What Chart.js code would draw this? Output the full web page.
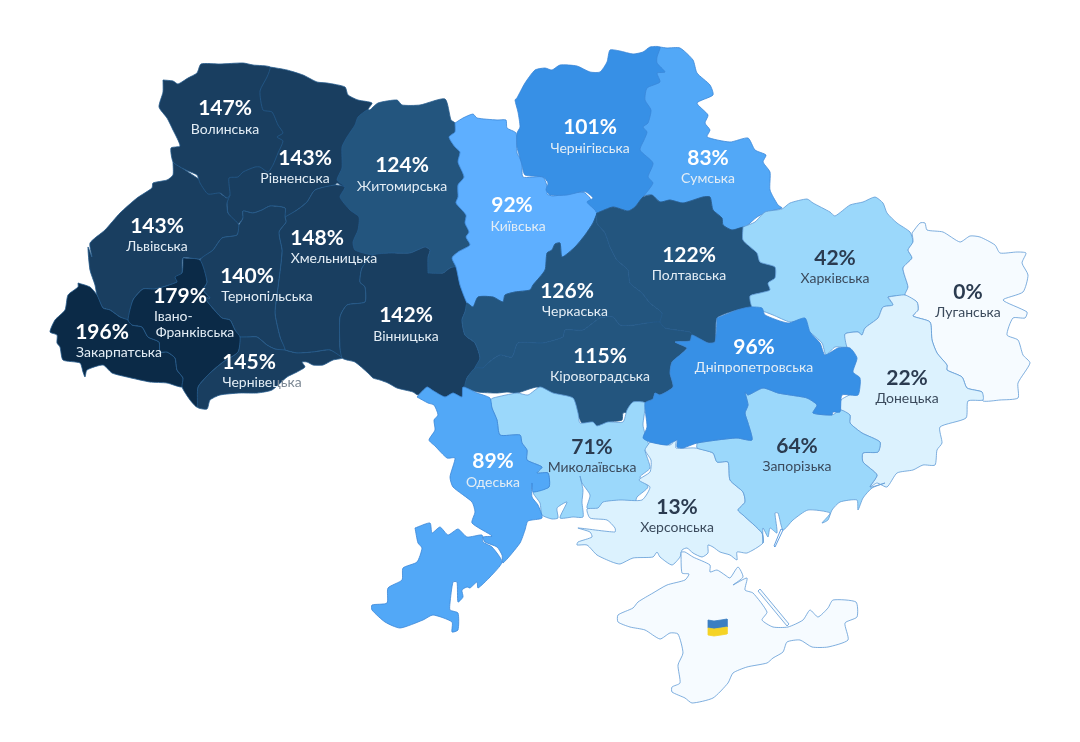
<!DOCTYPE html>
<html><head><meta charset="utf-8">
<style>html,body{margin:0;padding:0;background:#fff}canvas{display:block}</style>
<script src="https://cdn.jsdelivr.net/npm/chart.js@4"></script>
</head><body><canvas id="c" width="1080" height="742"></canvas>
<script>
// Region values (percent) and names, same order as labelX/labelY
const names=["Волинська","Рівненська","Житомирська","Київська","Чернігівська","Сумська","Львівська","Хмельницька","Тернопільська","Полтавська","Харківська","Луганська","Черкаська","Івано-Франківська","Вінницька","Закарпатська","Дніпропетровська","Чернівецька","Кіровоградська","Донецька","Миколаївська","Запорізька","Одеська","Херсонська"];
const values=[147,143,124,92,101,83,143,148,140,122,42,0,126,179,142,196,96,145,115,22,71,64,89,13];
const valueX=[225,305,402,512,590,708,157,317,247,689,835,968,567,180,406,102,754,249,600,907,592,797,493,677];
const valueY=[107,157,164,204,126,157,225,237,275,254,257,291,290,295,314,331,346,361,355,377,446,445,460,506];
const nameX=[225,295,402,518,590,708,157,334,267,689,835,968,575,195,406,119,754,262,600,907,592,797,493,677];
const nameY=[129,178,186,226,148,178,246,258,296,275,278,312,311,324,336,352,367,382,376,398,467,466,482,527];

// Region outlines in map units (x,y pairs)
const volynska=[163,80,173,81,178,84,188,78,197,73,201,64,220,64,243,63,253,65,270,67,267,77,260,91,263,110,272,112,278,125,283,133,277,137,283,141,278,153,273,165,268,172,260,167,255,167,243,172,238,177,229,178,230,195,227,198,220,193,208,194,200,183,197,175,188,171,180,167,173,162,171,148,180,146,173,130,167,118,159,107,163,92];
const rivnenska=[270,67,287,70,303,75,317,82,327,83,345,87,348,95,358,100,372,103,368,110,375,125,358,135,353,170,345,187,337,183,335,185,315,190,307,202,297,210,285,217,285,208,270,206,262,210,253,213,243,211,243,218,238,224,228,213,227,203,227,198,225,170,240,100,255,72];
const lvivska=[173,162,173,175,167,180,153,183,152,188,137,198,120,213,105,230,90,243,92,257,88,247,90,270,95,285,97,295,103,308,110,310,120,317,128,320,133,300,143,289,155,289,177,282,182,273,183,258,200,259,213,250,222,238,237,235,239,225,228,213,227,203,230,195,227,198,220,193];
const ternopilska=[239,225,243,218,243,211,253,213,262,210,270,206,285,208,285,217,286,222,279,232,282,250,281,263,278,287,275,313,280,337,285,350,275,349,267,345,257,337,248,337,240,337,235,330,230,320,222,318,210,305,205,298,210,298,203,290,207,282,200,260,213,250,222,238,237,235];
const khmelnytska=[285,217,297,210,307,202,315,190,335,185,345,187,362,215,373,255,362,268,360,282,365,287,365,302,347,305,340,317,340,348,342,358,330,350,313,352,297,353,288,351,285,350,280,337,275,313,278,287,281,263,282,250,279,232,286,222];
const chernivetska=[240,337,248,337,257,337,267,345,275,349,285,350,288,351,297,353,313,352,330,350,342,358,333,360,323,365,313,365,307,362,302,362,305,367,297,372,287,377,272,390,257,393,240,393,220,395,210,400,207,409,197,407,198,387,210,373,223,362,238,352];
const ivanoFrankivska=[183,258,200,260,207,282,203,290,210,298,205,298,210,305,222,318,230,320,235,330,240,337,238,352,223,362,210,373,198,387,197,407,190,400,182,387,183,378,177,370,175,358,167,352,160,352,159,342,148,337,142,327,132,325,128,320,133,300,143,289,155,289,177,282,175,277,182,273];
const zakarpatska=[78,283,90,287,97,295,103,308,110,310,120,317,128,320,132,325,142,327,148,337,159,342,160,352,167,352,175,358,177,370,183,378,182,387,167,383,150,382,127,377,112,373,103,365,87,370,85,377,83,372,80,363,63,360,60,347,57,343,57,335,50,332,55,320,65,310,68,295,78,287];
const zhytomyrska=[370,110,378,103,397,100,402,105,420,105,445,99,451,120,455,123,455,132,449,137,455,147,460,152,458,162,464,177,458,185,458,197,456,203,466,215,465,223,469,232,466,237,470,245,458,252,452,258,456,267,450,268,443,273,428,273,428,257,430,250,425,247,410,253,390,253,373,255,355,250,353,242,358,230,359,217,350,210,340,197,345,187,337,180,342,168,342,147,347,137,355,125,358,117,367,110];
const vinnytska=[428,273,443,273,450,268,456,267,460,285,467,303,465,312,462,320,465,335,475,343,480,358,475,368,467,378,465,387,463,388,462,397,453,393,445,397,432,390,427,387,418,395,413,392,397,388,388,383,380,380,373,378,368,373,355,362,347,360,342,358,340,348,340,317,347,305,365,302,365,287,360,282,362,268,373,255,390,253,410,253,425,247,430,250,428,257];
const kyivska=[455,123,463,118,473,114,477,118,497,120,506,120,507,128,516,133,517,153,522,162,523,177,543,177,548,190,547,194,553,196,583,192,590,198,592,205,597,213,593,223,585,235,575,247,562,257,560,243,555,244,552,250,547,253,545,270,533,285,530,290,515,292,505,295,503,302,493,297,478,297,473,307,467,303,460,285,456,267,452,258,458,252,470,245,466,237,469,232,465,223,466,215,456,203,458,197,458,185,464,177,458,162,460,152,455,147,449,137,455,132];
const chernihivska=[517,98,525,83,535,70,545,68,552,70,560,65,577,66,590,72,600,72,607,62,610,50,620,51,633,54,643,52,650,47,660,47,657,57,657,63,665,72,657,73,660,82,647,88,645,100,651,110,648,123,643,127,647,132,644,140,640,150,653,163,648,177,653,183,643,197,635,207,628,211,613,207,597,213,595,210,587,202,593,198,586,192,580,192,567,195,550,195,546,190,548,183,543,177,525,175,522,165,517,147,517,133,520,127,518,112,515,100];
const sumska=[660,47,667,48,680,48,693,60,697,73,710,85,713,95,697,103,708,115,705,123,710,130,707,137,730,142,748,138,755,150,766,155,763,162,770,172,770,190,778,205,782,208,767,212,757,217,745,227,732,230,723,225,722,218,713,210,710,197,703,197,683,203,670,200,660,202,652,195,640,195,635,150,638,100,645,70];
const poltavska=[597,213,613,207,628,211,635,207,643,197,652,195,660,202,670,200,683,203,703,197,710,197,713,210,722,218,723,225,732,230,745,227,743,240,757,253,760,262,775,267,775,278,768,283,770,290,760,293,750,296,752,307,737,310,717,318,715,342,708,343,692,335,690,332,665,328,660,322,662,313,650,303,642,293,630,283,628,270,617,260,610,247,605,233,597,223];
const cherkaska=[597,213,597,223,605,233,610,247,617,260,628,270,630,283,642,293,650,303,662,313,660,322,647,323,635,325,620,325,613,317,600,318,583,330,565,330,563,337,543,343,518,343,512,357,500,355,488,363,483,368,475,368,480,358,475,343,465,335,462,320,465,312,467,303,473,307,478,297,493,297,503,302,505,295,515,292,530,290,533,285,545,270,547,253,552,250,555,244,560,243,562,257,575,247,585,235,593,223];
const kirovohradska=[483,368,488,363,500,355,512,357,518,343,543,343,563,337,565,330,583,330,600,318,613,317,620,325,635,325,647,323,660,322,665,328,690,332,692,335,690,341,675,342,687,348,680,355,672,362,670,373,673,387,660,395,655,393,653,399,645,403,640,402,633,408,630,412,623,413,622,420,610,422,608,425,597,427,592,422,582,423,578,415,573,410,573,400,562,397,547,392,537,387,517,393,507,392,497,393,478,392,465,387,467,378,475,368];
const dnipropetrovska=[717,318,737,310,750,307,762,308,765,315,788,323,805,318,810,332,820,343,825,355,838,348,850,348,857,358,853,372,860,378,858,395,842,395,840,412,833,412,832,415,813,413,817,405,807,398,790,395,778,393,763,388,748,395,745,392,748,405,745,413,748,423,752,440,737,438,717,440,697,443,683,448,677,447,677,440,667,445,650,442,643,438,647,427,645,403,653,399,655,393,660,395,673,387,670,373,672,362,680,355,687,348,675,342,690,341,692,335,708,343,715,342];
const kharkivska=[743,227,755,222,765,212,782,209,790,203,807,199,813,203,830,212,835,216,850,205,863,202,875,197,883,203,887,213,897,223,910,232,913,242,908,250,912,258,903,268,908,287,905,295,888,297,893,305,883,307,878,318,865,328,862,335,858,332,845,334,847,347,835,347,826,355,822,343,808,330,805,320,790,322,773,315,760,310,752,307,750,296,760,293,770,290,768,283,775,278,775,267,760,262,757,253,743,240];
const donetska=[888,297,905,295,917,302,918,310,913,316,930,322,932,340,937,353,947,365,947,370,962,377,967,388,982,392,983,400,968,401,966,418,940,427,942,443,937,450,935,465,923,465,913,470,897,473,887,487,877,483,870,487,877,475,863,462,863,453,878,452,880,442,862,433,850,423,850,415,841,410,841,400,858,390,860,380,852,373,853,353,847,347,845,334,858,332,862,335,865,328,878,318,883,307,893,305];
const luhanska=[912,233,920,223,925,223,927,230,943,232,960,242,970,236,980,237,995,245,1000,253,1017,252,1026,253,1022,263,1028,275,1023,292,1003,300,1027,312,1025,318,1013,318,1007,335,1018,340,1023,355,1030,363,1018,383,1018,398,1000,400,983,401,982,392,967,388,962,377,947,370,947,365,937,353,932,340,930,322,913,316,918,310,917,302,905,295,908,287,903,268,912,258,908,250,913,242];
const zaporizka=[697,443,717,440,737,438,752,440,748,423,745,413,748,405,745,392,748,395,763,388,778,393,790,395,807,398,817,405,813,413,832,415,841,410,850,415,850,423,862,433,880,442,878,452,863,453,863,462,877,475,870,487,885,483,872,488,863,498,858,510,857,500,840,502,832,510,828,520,822,523,830,513,808,510,793,520,783,530,778,513,775,513,777,533,770,528,768,537,763,528,763,543,762,533,743,515,738,510,745,502,743,492,730,480,728,462,717,462,713,453,697,448];
const khersonska=[650,442,670,445,676,440,676,448,695,448,713,453,717,462,728,462,730,480,743,492,745,502,738,510,743,515,762,533,763,543,747,553,737,552,737,560,730,555,720,552,713,547,708,545,708,553,702,557,693,553,687,548,682,550,680,557,672,565,660,557,657,552,653,557,633,558,620,564,612,562,597,555,587,545,577,545,578,542,592,537,590,532,578,528,615,532,615,528,607,520,590,518,587,509,598,508,603,502,620,500,642,500,650,487,639,480,650,472,651,460,645,450];
const mykolaivska=[490,400,493,398,517,393,528,395,540,387,553,393,573,398,578,413,580,423,593,422,597,426,608,422,623,422,627,410,633,402,645,403,643,425,647,440,652,452,645,450,650,468,640,477,648,487,637,497,635,502,617,502,608,503,597,510,587,508,590,495,582,483,580,476,583,490,582,502,583,517,573,517,560,518,567,502,557,508,558,518,552,519,542,515,540,503,533,492,549,487,548,473,537,473,542,467,527,460,527,450,522,443,520,435,500,435,497,420,492,408];
const odeskaNorth=[417,397,427,387,432,390,445,397,453,393,462,397,463,387,477,393,490,398,492,408,497,420,500,435,520,435,522,443,527,450,527,460,542,467,537,473,548,473,549,487,533,492,532,483,532,497,538,505,542,518,528,521,525,530,520,543,503,563,502,555,497,547,485,542,483,537,492,536,472,523,475,512,472,502,453,487,450,477,455,458,447,458,435,446,429,440,435,430,434,420,438,415,434,405,428,403];
const odeskaSouth=[415,528,430,523,432,533,440,527,448,535,458,529,467,537,482,535,483,542,492,547,502,562,490,577,478,588,477,582,470,588,467,587,462,590,463,597,458,602,457,582,453,582,450,603,450,610,458,613,458,630,452,632,452,622,433,615,423,620,400,628,385,622,372,610,372,605,387,603,388,588,402,580,403,568,417,562,422,548,418,543];
const krym=[681,552,682,573,689,574,685,580,667,585,653,593,638,602,633,608,618,615,618,622,630,627,645,630,660,639,670,633,678,634,683,653,678,665,680,683,672,687,672,692,685,698,692,703,713,698,728,683,733,673,747,667,767,663,773,658,783,652,787,642,800,640,812,647,828,647,848,640,845,623,857,617,856,602,833,600,828,608,818,617,810,610,803,620,788,627,773,627,762,620,767,612,753,593,745,590,747,578,733,585,743,577,738,567,730,578,725,575,717,570,710,572,710,565,693,557,685,552];
const arabatSpit=[760,589,789,624,787,626,758,591];
const fedotovaSpit=[783,530,775,547,774,546,781,529];
const flagBlue=[708,620,714,621,721,620,727,619,727,627,721,628,714,629,708,628];
const flagYellow=[708,628,714,629,721,628,727,627,727,634,721,635,714,636,708,635];

// Draw order, bottom first
const outlines=[["Сумська",sumska],["Рівненська",rivnenska],["Хмельницька",khmelnytska],["Львівська",lvivska],["Волинська",volynska],["Тернопільська",ternopilska],["Чернівецька",chernivetska],["Закарпатська",zakarpatska],["Івано-Франківська",ivanoFrankivska],["Житомирська",zhytomyrska],["Вінницька",vinnytska],["Київська",kyivska],["Чернігівська",chernihivska],["Черкаська",cherkaska],["Кіровоградська",kirovohradska],["Полтавська",poltavska],["Миколаївська",mykolaivska],["Одеська",odeskaNorth],["Одеська",odeskaSouth],["Харківська",kharkivska],["Луганська",luhanska],["Донецька",donetska],["Херсонська",khersonska],["Запорізька",zaporizka],["Дніпропетровська",dnipropetrovska],["Крим",krym]];

function fillFor(v){
  if(v===undefined) return "#f6fbff";
  if(v>=170) return "#0b2a47";
  if(v>=130) return "#193e60";
  if(v>=110) return "#23557e";
  if(v>=95) return "#3790e6";
  if(v>=90) return "#5eafff";
  if(v>=80) return "#52a8f7";
  if(v>=40) return "#9bd8fb";
  if(v>=10) return "#dcf2fe";
  return "#f6fbff";
}
function borderFor(v){
  if(v>=110) return "#255a8c";
  if(v>=80) return "#3a86d8";
  return "#5f9ad6";
}
function pts(a){const r=[];for(let i=0;i<a.length;i+=2)r.push({x:a[i],y:a[i+1]});r.push({x:a[0],y:a[1]});return r;}
function poly(label,a,bg,bc,t){return{label,data:pts(a),showLine:true,fill:"shape",tension:t,pointRadius:0,backgroundColor:bg,borderColor:bc,borderWidth:0.8};}

const ds=outlines.map(([n,a])=>{const v=values[names.indexOf(n)];return poly(n,a,fillFor(v),borderFor(v),0.2);});
ds.push(poly("spit",arabatSpit,"#f6fbff","#5f9ad6",0));
ds.push(poly("spit2",fedotovaSpit,"#ffffff","#3a86d8",0));
ds.push(poly("flag",flagBlue,"#3c7fc2","#3c7fc2",0));
ds.push(poly("flag",flagYellow,"#f5d326","#f5d326",0));
ds.reverse(); // Chart.js paints the first dataset last

const FONT='Lato, "Open Sans"';
const labelPlugin={id:"labels",afterDatasetsDraw(chart){
  const {ctx,scales:{x,y}}=chart;
  ctx.save();ctx.textAlign="center";ctx.textBaseline="middle";
  names.forEach((n,i)=>{
    const dark=values[i]>=80;
    ctx.font='700 21px '+FONT;
    ctx.fillStyle=dark?"#ffffff":"#2b3b50";
    ctx.fillText(values[i]+"%",x.getPixelForValue(valueX[i]),y.getPixelForValue(valueY[i])+1);
    ctx.font='400 14px '+FONT;
    ctx.fillStyle=dark?"#e3edf5":"#3b4a5c";
    const nx=x.getPixelForValue(nameX[i]),ny=y.getPixelForValue(nameY[i]);
    if(n==="Івано-Франківська"){
      ctx.textAlign="left";ctx.fillText("Івано-",154,ny-8);
      ctx.textAlign="center";ctx.fillText("Франківська",nx,ny+8);
    }else if(n==="Чернівецька"){
      ctx.save();ctx.beginPath();ctx.rect(0,ny-12,278,24);ctx.clip();ctx.fillText(n,nx,ny);ctx.restore();
      ctx.save();ctx.beginPath();ctx.rect(278,ny-12,60,24);ctx.clip();ctx.fillStyle="#7d8995";ctx.fillText(n,nx,ny);ctx.restore();
    }else ctx.fillText(n,nx,ny);
  });
  ctx.restore();
}};

new Chart(document.getElementById("c"),{
  type:"scatter",
  data:{datasets:ds},
  options:{
    responsive:false,animation:false,
    layout:{padding:0},
    plugins:{legend:{display:false},tooltip:{enabled:false},title:{display:false}},
    scales:{
      x:{type:"linear",min:0,max:1080,display:false},
      y:{type:"linear",min:0,max:742,reverse:true,display:false}
    }
  },
  plugins:[labelPlugin]
});
</script></body></html>
